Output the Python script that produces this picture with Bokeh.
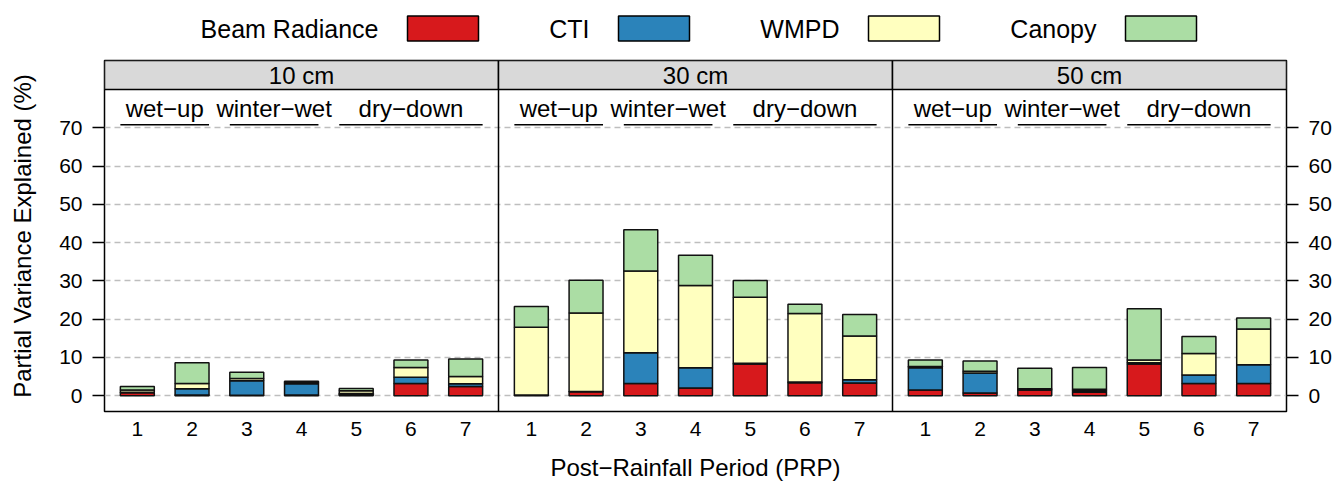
from bokeh.plotting import figure
from bokeh.models import ColumnDataSource, FixedTicker, LinearAxis, Range1d
from bokeh.layouts import column
from bokeh.embed import file_html
from bokeh.resources import INLINE
from bokeh.core.properties import value

# ---------------- data ----------------
depths = ["10 cm", "30 cm", "50 cm"]
prp = [1, 2, 3, 4, 5, 6, 7]
predictors = ["Beam Radiance", "CTI", "WMPD", "Canopy"]
colors = ["#d7191c", "#2b83ba", "#ffffbf", "#abdda4"]

beam_10 = [0.8, 0.2, 0.1, 0.2, 0.3, 3.2, 2.4]
cti_10 = [0.1, 1.6, 3.8, 2.9, 0.3, 1.6, 0.7]
wmpd_10 = [0.6, 1.4, 0.6, 0.3, 0.7, 2.6, 1.9]
canopy_10 = [0.9, 5.4, 1.6, 0.4, 0.6, 1.9, 4.6]

beam_30 = [0.1, 1.0, 3.2, 2.0, 8.3, 3.4, 3.3]
cti_30 = [0.1, 0.1, 8.0, 5.3, 0.2, 0.2, 0.9]
wmpd_30 = [17.7, 20.5, 21.4, 21.5, 17.2, 17.9, 11.4]
canopy_30 = [5.4, 8.6, 10.8, 7.9, 4.4, 2.4, 5.6]

beam_50 = [1.5, 0.7, 1.5, 0.9, 8.3, 3.2, 3.2]
cti_50 = [5.8, 5.2, 0.1, 0.4, 0.3, 2.2, 4.9]
wmpd_50 = [0.3, 0.5, 0.2, 0.4, 0.7, 5.6, 9.3]
canopy_50 = [1.7, 2.7, 5.4, 5.7, 13.4, 4.5, 2.9]

periods = ["wet\u2212up", "winter\u2212wet", "dry\u2212down"]
period_first = [1, 3, 5]
period_last = [2, 4, 7]
y_ticks = [0, 10, 20, 30, 40, 50, 60, 70]

# ---------------- layout constants ----------------
FONT = "Liberation Sans"
PANEL_W = 7.2
X0 = 0.4
BAR_W = 0.62
Y_MIN, Y_MAX = -4.13, 87.6
STRIP_Y0 = 80.05
STRIP_TEXT_Y = 83.6
PERIOD_TEXT_Y = 75.0
PERIOD_LINE_Y = 70.8
FRAME_L, FRAME_R = 104, 1286

beam_all = [beam_10, beam_30, beam_50]
cti_all = [cti_10, cti_30, cti_50]
wmpd_all = [wmpd_10, wmpd_30, wmpd_50]
canopy_all = [canopy_10, canopy_30, canopy_50]

xs, b, c, w, cn = [], [], [], [], []
for k in range(3):
    for j, i in enumerate(prp):
        xs.append(round(i + k * PANEL_W, 1))
        b.append(beam_all[k][j])
        c.append(cti_all[k][j])
        w.append(wmpd_all[k][j])
        cn.append(canopy_all[k][j])
src = ColumnDataSource(dict(x=xs, beam=b, cti=c, wmpd=w, canopy=cn))

p = figure(width=1338, height=430,
           x_range=Range1d(X0, X0 + 3 * PANEL_W), y_range=Range1d(Y_MIN, Y_MAX),
           output_backend="svg", toolbar_location=None,
           min_border_left=FRAME_L, min_border_right=1338 - FRAME_R,
           min_border_top=5, min_border_bottom=74)
p.outline_line_color = "black"
p.outline_line_width = 1.5
p.background_fill_color = "white"
p.border_fill_color = "white"

p.vbar_stack(["beam", "cti", "wmpd", "canopy"], x="x", width=BAR_W, source=src,
             fill_color=colors, line_color="#111111", line_width=1.5)

# panel dividers
div_x = [X0 + k * PANEL_W for k in (1, 2)]
p.segment(x0=div_x, y0=[Y_MIN] * 2, x1=div_x, y1=[Y_MAX] * 2, line_color="black", line_width=1.5)

# strips
lefts = [X0 + k * PANEL_W for k in range(3)]
rights = [X0 + (k + 1) * PANEL_W for k in range(3)]
p.quad(left=lefts, right=rights, bottom=[STRIP_Y0] * 3, top=[Y_MAX] * 3,
       fill_color="#d9d9d9", line_color="black", line_width=1.5)
p.text(x=[(l + r) / 2 for l, r in zip(lefts, rights)], y=[STRIP_TEXT_Y] * 3, text=depths,
       text_align="center", text_baseline="middle", text_font=value(FONT),
       text_font_size="24px", text_color="black")

# period labels
pt_x, pt_y, pt_t, l0, l1 = [], [], [], [], []
for k in range(3):
    for name, f, l in zip(periods, period_first, period_last):
        pt_x.append((f + l) / 2 + k * PANEL_W)
        pt_y.append(PERIOD_TEXT_Y)
        pt_t.append(name)
        l0.append(f - BAR_W / 2 + k * PANEL_W)
        l1.append(l + BAR_W / 2 + k * PANEL_W)
p.text(x=pt_x, y=pt_y, text=pt_t, text_align="center", text_baseline="middle",
       text_font=value(FONT), text_font_size="24px", text_color="black")
p.segment(x0=l0, y0=[PERIOD_LINE_Y] * len(l0), x1=l1, y1=[PERIOD_LINE_Y] * len(l1),
          line_color="black", line_width=1.5)

# grid
p.xgrid.visible = False
p.ygrid.ticker = FixedTicker(ticks=y_ticks)
p.ygrid.grid_line_color = "#bebebe"
p.ygrid.grid_line_dash = "6 4"
p.ygrid.grid_line_width = 1.5

# x axis
xa = p.xaxis[0]
xa.ticker = FixedTicker(ticks=xs)
xa.major_label_overrides = {x: str(i) for x, i in zip(xs, prp * 3)}
xa.major_tick_out = 0
xa.major_tick_in = 0
xa.minor_tick_out = 0
xa.axis_line_color = None
xa.major_label_standoff = 10
xa.major_label_text_font = FONT
xa.major_label_text_font_size = "21px"
xa.major_label_text_color = "black"
xa.axis_label = "Post\u2212Rainfall Period (PRP)"
xa.axis_label_text_font = FONT
xa.axis_label_text_font_size = "24px"
xa.axis_label_text_font_style = "normal"
xa.axis_label_text_color = "black"
xa.axis_label_standoff = 15


def style_y(ax):
    ax.ticker = FixedTicker(ticks=y_ticks)
    ax.major_tick_out = 12
    ax.major_tick_in = 0
    ax.minor_tick_out = 0
    ax.minor_tick_in = 0
    ax.major_tick_line_width = 1.5
    ax.major_tick_line_color = "black"
    ax.axis_line_color = None
    ax.major_label_standoff = 10
    ax.major_label_text_font = FONT
    ax.major_label_text_font_size = "21px"
    ax.major_label_text_color = "black"


ya = p.yaxis[0]
style_y(ya)
ya.axis_label = "Partial Variance Explained (%)"
ya.axis_label_text_font = FONT
ya.axis_label_text_font_size = "24px"
ya.axis_label_text_font_style = "normal"
ya.axis_label_text_color = "black"
ya.axis_label_standoff = 20

ra = LinearAxis()
style_y(ra)
p.add_layout(ra, "right")

# ---------------- legend figure (frame aligned with main frame, pixel coords) ----------------
legend_box_left = [407, 618, 868, 1125]
BOX_W, BOX_H, LEG_Y = 71, 25, 28
lg = figure(width=1338, height=55, x_range=Range1d(FRAME_L, FRAME_R), y_range=Range1d(55, 0),
            output_backend="svg", toolbar_location=None, x_axis_type=None, y_axis_type=None,
            min_border_left=FRAME_L, min_border_right=1338 - FRAME_R,
            min_border_top=0, min_border_bottom=0)
lg.outline_line_color = None
lg.xgrid.visible = False
lg.ygrid.visible = False
lg.quad(left=legend_box_left, right=[x + BOX_W for x in legend_box_left],
        top=[LEG_Y - BOX_H / 2] * 4, bottom=[LEG_Y + BOX_H / 2] * 4,
        fill_color=colors, line_color="black", line_width=1.5)
lg.text(x=[x - 29 for x in legend_box_left], y=[LEG_Y] * 4, text=predictors,
        text_align="right", text_baseline="middle", text_font=value(FONT),
        text_font_size="25px", text_color="black")

layout = column(lg, p, spacing=0)
open("out.html", "w").write(file_html(layout, INLINE))
